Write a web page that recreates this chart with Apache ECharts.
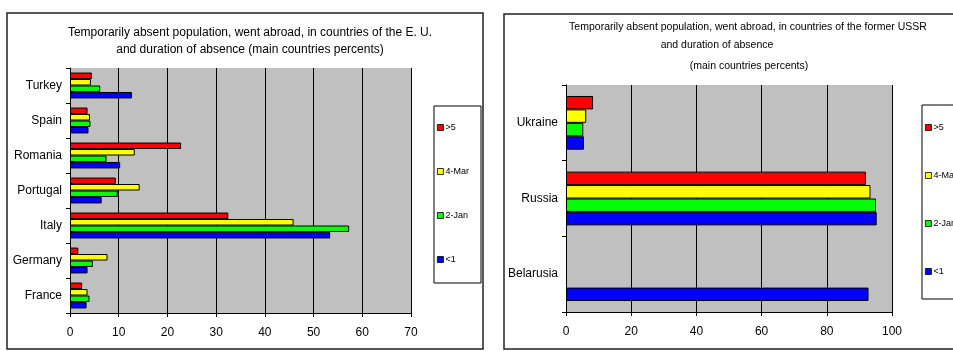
<!DOCTYPE html>
<html><head><meta charset="utf-8">
<script src="https://cdn.jsdelivr.net/npm/echarts@6/dist/echarts.min.js"></script>
<style>html,body{margin:0;padding:0;background:#fff}#c{width:953px;height:351px}</style>
</head><body><div id="c"></div>
<script>
// ---- data ----
const seriesNames = ['>5', '4-Mar', '2-Jan', '<1'];
const euCountries = ['France', 'Germany', 'Italy', 'Portugal', 'Romania', 'Spain', 'Turkey'];
const euOver5   = [2.5, 1.7, 32.5, 9.4, 22.8, 3.6, 4.5];
const euMar4    = [3.6, 7.7, 45.9, 14.3, 13.3, 4.1, 4.3];
const euJan2    = [4.0, 4.7, 57.3, 9.8, 7.5, 4.2, 6.2];
const euUnder1  = [3.4, 3.6, 53.4, 6.5, 10.3, 3.8, 12.7];
const ussrCountries = ['Belarusia', 'Russia', 'Ukraine'];
const ussrOver5  = ['-', 92.0, 8.3];
const ussrMar4   = ['-', 93.4, 6.2];
const ussrJan2   = ['-', 95.1, 5.3];
const ussrUnder1 = [92.8, 95.3, 5.5];
const euTitle = 'Temporarily absent population, went abroad, in countries of the E. U.\nand duration of absence (main countries percents)';
const ussrTitle1 = 'Temporarily absent population, went abroad, in countries of the former USSR';
const ussrTitle2 = 'and duration of absence';
const ussrTitle3 = '(main countries percents)';

const colors = ['#ff0000', '#ffff00', '#00ff00', '#0000ff'];
const FONT = '"Liberation Sans Narrow", "Liberation Sans", Arial, sans-serif';

const chart = echarts.init(document.getElementById('c'), null, {renderer: 'canvas'});

function mkSeries(name, data, idx, axisIdx, gap) {
  return {
    type: 'bar', name: name, data: data,
    xAxisIndex: axisIdx, yAxisIndex: axisIdx,
    barGap: '0%', barCategoryGap: gap,
    itemStyle: {color: colors[idx], borderColor: '#000', borderWidth: 1},
    emphasis: {disabled: true},
    animation: false
  };
}

const xAxisCommon = {
  type: 'value',
  axisLine: {show: true, lineStyle: {color: '#000', width: 1}},
  axisTick: {show: true, length: 4, lineStyle: {color: '#000'}},
  splitLine: {show: true, lineStyle: {color: '#000', width: 1}},
  axisLabel: {color: '#000', fontFamily: FONT, fontSize: 12, margin: 14}
};
const yAxisCommon = {
  type: 'category',
  axisLine: {show: true, lineStyle: {color: '#000', width: 1}},
  axisTick: {show: true, length: 4, lineStyle: {color: '#000'}},
  splitLine: {show: false},
  axisLabel: {color: '#000', fontFamily: FONT, fontSize: 12, margin: 8}
};

const legendCommon = {
  orient: 'vertical',
  data: seriesNames,
  icon: 'rect',
  itemWidth: 6, itemHeight: 6,
  itemStyle: {borderColor: '#000', borderWidth: 0.8},
  textStyle: {color: '#000', fontFamily: FONT, fontSize: 9, padding: [0, 0, 0, -3]},
  selectedMode: false,
  padding: 0
};

chart.setOption({
  animation: false,
  title: [
    {text: euTitle, left: 245, top: 19, textAlign: 'center',
     textStyle: {fontFamily: FONT, fontSize: 12, fontWeight: 'normal', color: '#000', lineHeight: 17}},
    {text: ussrTitle1, left: 743, top: 17, textAlign: 'center',
     textStyle: {fontFamily: FONT, fontSize: 10.5, fontWeight: 'normal', color: '#000'}},
    {text: ussrTitle2, left: 712, top: 35, textAlign: 'center',
     textStyle: {fontFamily: FONT, fontSize: 10.5, fontWeight: 'normal', color: '#000'}},
    {text: ussrTitle3, left: 744, top: 56, textAlign: 'center',
     textStyle: {fontFamily: FONT, fontSize: 10.5, fontWeight: 'normal', color: '#000'}}
  ],
  graphic: [
    {type: 'rect', shape: {x: 7, y: 13, width: 476, height: 336}, style: {fill: 'none', stroke: '#222', lineWidth: 1.5}, silent: true, z: -1},
    {type: 'rect', shape: {x: 504, y: 14, width: 470, height: 335}, style: {fill: 'none', stroke: '#222', lineWidth: 1.5}, silent: true, z: -1},
    {type: 'rect', shape: {x: 434, y: 106, width: 47, height: 177}, style: {fill: '#fff', stroke: '#000', lineWidth: 1}, silent: true, z: -1},
    {type: 'rect', shape: {x: 922, y: 105, width: 60, height: 194}, style: {fill: '#fff', stroke: '#000', lineWidth: 1}, silent: true, z: -1}
  ],
  legend: [
    Object.assign({}, legendCommon, {left: 437, top: 123, itemGap: 35}),
    Object.assign({}, legendCommon, {left: 925, top: 123, itemGap: 39})
  ],
  grid: [
    {left: 70, top: 68, right: 542, bottom: 38, show: true, backgroundColor: '#c0c0c0', borderWidth: 0},
    {left: 566, top: 85, right: 61, bottom: 39, show: true, backgroundColor: '#c0c0c0', borderWidth: 0}
  ],
  xAxis: [
    Object.assign({}, xAxisCommon, {gridIndex: 0, min: 0, max: 70, interval: 10}),
    Object.assign({}, xAxisCommon, {gridIndex: 1, min: 0, max: 100, interval: 20})
  ],
  yAxis: [
    Object.assign({}, yAxisCommon, {gridIndex: 0, data: euCountries}),
    Object.assign({}, yAxisCommon, {gridIndex: 1, data: ussrCountries})
  ],
  series: [
    mkSeries(seriesNames[0], euOver5, 0, 0, '26%'),
    mkSeries(seriesNames[1], euMar4, 1, 0, '26%'),
    mkSeries(seriesNames[2], euJan2, 2, 0, '26%'),
    mkSeries(seriesNames[3], euUnder1, 3, 0, '26%'),
    mkSeries(seriesNames[0], ussrOver5, 0, 1, '29%'),
    mkSeries(seriesNames[1], ussrMar4, 1, 1, '29%'),
    mkSeries(seriesNames[2], ussrJan2, 2, 1, '29%'),
    mkSeries(seriesNames[3], ussrUnder1, 3, 1, '29%')
  ]
});
</script></body></html>
